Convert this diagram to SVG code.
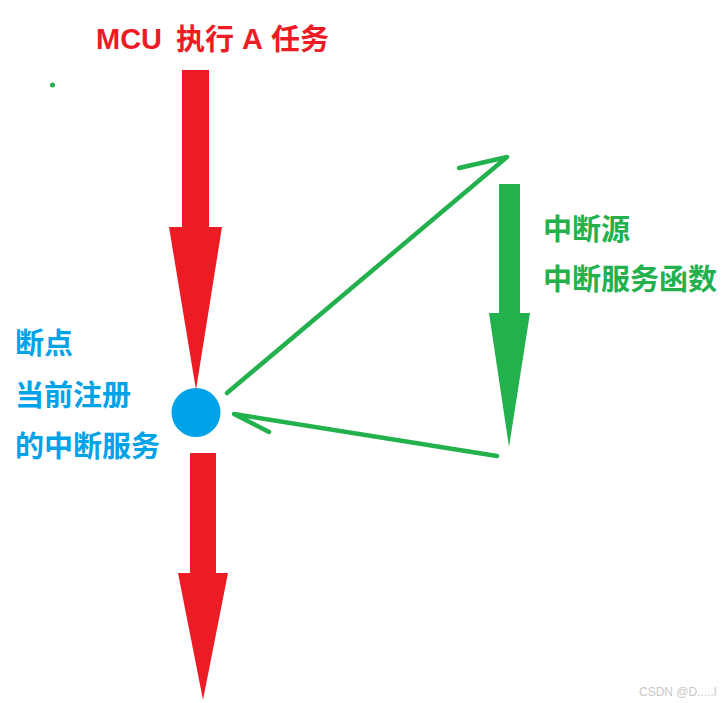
<svg xmlns="http://www.w3.org/2000/svg" width="725" height="703" viewBox="0 0 725 703">
<style>
.cjk{font-family:"Noto Sans CJK SC","Liberation Sans",sans-serif;font-weight:bold;font-size:29px}
.lat{font-family:"Liberation Sans",Arial,sans-serif;font-weight:bold;font-size:29px}
.red{fill:#ED1C24}
.green{fill:#22B14C}
.blue{fill:#00A2E8}
.gline{fill:none;stroke:#22B14C;stroke-width:4.5;stroke-linecap:round;stroke-linejoin:round}
</style>
<rect width="725" height="703" fill="#ffffff"/>
<g id="title">
<text class="lat red" x="96" y="49">MCU</text>
<text class="cjk red" x="176" y="50">执行</text>
<text class="lat red" x="242" y="49">A</text>
<text class="cjk red" x="271" y="50">任务</text>
</g>
<g id="breakpoint">
<circle class="blue" cx="196" cy="412.5" r="24.5"/>
<text class="cjk blue" x="15" y="354">断点</text>
<text class="cjk blue" x="15" y="406">当前注册</text>
<text class="cjk blue" x="15" y="457">的中断服务</text>
</g>
<g id="interrupt-source">
<polygon class="green" points="499,184 520,184 520,313 530,313 509,447 489,313 499,313"/>
<text class="cjk green" x="543" y="240">中断源</text>
<text class="cjk green" x="543" y="290">中断服务函数</text>
</g>
<g id="connectors">
<polygon class="red" points="182,70 209,70 209,227 222,227 196,390 169,227 182,227"/>
<polygon class="red" points="190,453 216,453 216,573 228,573 203,700 178,573 190,573"/>
<path class="gline" d="M227,393 L507,157 L459,168"/>
<path class="gline" d="M497,456 L234,414 L269,432"/>
</g>
<circle class="green" cx="52.5" cy="85" r="2.5"/>
<text x="639" y="696" style="font-family:'Liberation Sans',Arial,sans-serif;font-size:12px;fill:#c8c8c8">CSDN @D.....l</text>
</svg>
